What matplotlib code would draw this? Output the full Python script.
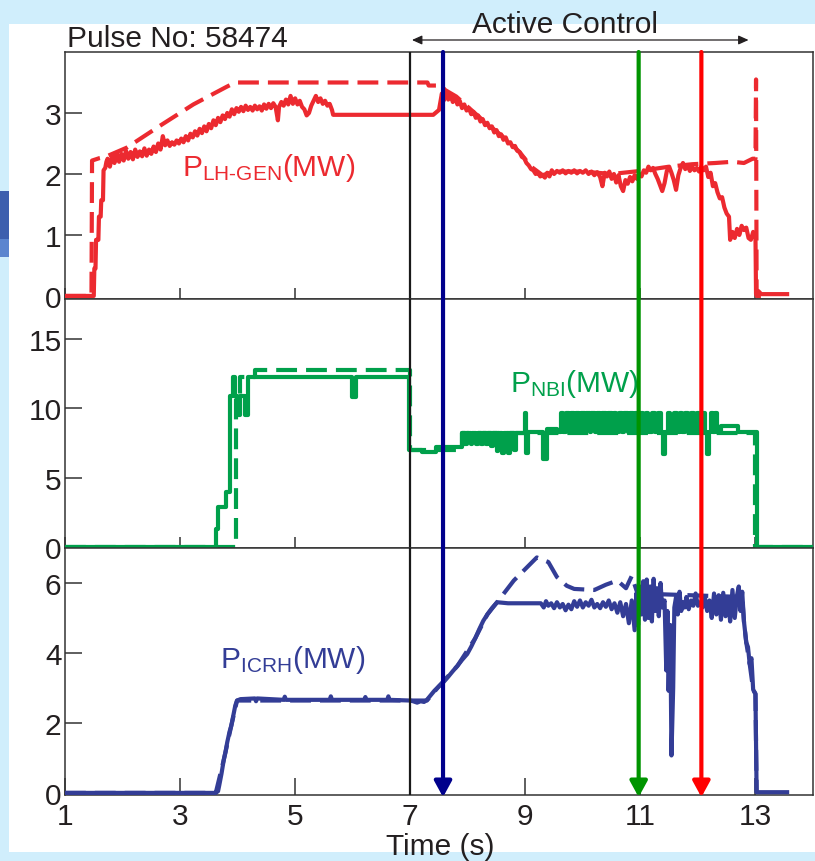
import matplotlib
matplotlib.use("Agg")
import matplotlib.pyplot as plt
from matplotlib.patches import Rectangle, ConnectionPatch
from matplotlib.transforms import blended_transform_factory

plt.rcParams["font.family"] = ["Liberation Sans", "DejaVu Sans"]
plt.rcParams["mathtext.fontset"] = "custom"
plt.rcParams["mathtext.rm"] = "Liberation Sans"
plt.rcParams["mathtext.it"] = "Liberation Sans:italic"
plt.rcParams["mathtext.bf"] = "Liberation Sans:bold"
plt.rcParams["lines.scale_dashes"] = False

# ---------------------------------------------------------------- data
pulse_label = "Pulse No: 58474"
time_ticks = [1, 3, 5, 7, 9, 11, 13]
lh_ticks = [0, 1, 2, 3]
nbi_ticks = [0, 5, 10, 15]
icrh_ticks = [0, 2, 4, 6]

control_start = 7.0
control_span = (7.03, 12.88)
marker_times = [7.57, 10.97, 12.06]
marker_colors = ["#00008c", "#009400", "#ff0000"]

# LH generator power (MW): measured (solid) and requested (dashed)
lh_solid = [
    (1.00, 0.00), (1.50, 0.00), (1.51, 0.45), (1.53, 0.45), (1.54, 0.92), (1.58, 0.92),
    (1.59, 1.30), (1.62, 1.30), (1.63, 1.57), (1.66, 1.57), (1.67, 2.06), (1.70, 2.10),
    (1.72, 2.20), (1.74, 2.25), (1.78, 2.12), (1.82, 2.30), (1.86, 2.18), (1.90, 2.35),
    (1.94, 2.20), (1.98, 2.33), (2.02, 2.22), (2.06, 2.38), (2.10, 2.25), (2.14, 2.36),
    (2.18, 2.24), (2.22, 2.40), (2.26, 2.28), (2.30, 2.37), (2.34, 2.29), (2.38, 2.42),
    (2.42, 2.30), (2.46, 2.40), (2.50, 2.33), (2.54, 2.45), (2.58, 2.36), (2.62, 2.50),
    (2.66, 2.40), (2.70, 2.62), (2.74, 2.47), (2.78, 2.55), (2.82, 2.46), (2.86, 2.52),
    (2.90, 2.48), (2.94, 2.55), (2.98, 2.50), (3.02, 2.58), (3.06, 2.52), (3.10, 2.62),
    (3.14, 2.55), (3.18, 2.66), (3.22, 2.60), (3.26, 2.70), (3.30, 2.63), (3.34, 2.74),
    (3.38, 2.67), (3.42, 2.78), (3.46, 2.70), (3.50, 2.82), (3.54, 2.75), (3.58, 2.88),
    (3.62, 2.80), (3.66, 2.92), (3.70, 2.85), (3.74, 2.96), (3.78, 2.90), (3.82, 3.00),
    (3.86, 2.94), (3.90, 3.06), (3.94, 2.98), (3.98, 3.08), (4.02, 3.02), (4.06, 3.10),
    (4.10, 3.03), (4.14, 3.12), (4.18, 3.05), (4.22, 3.10), (4.26, 3.04), (4.30, 3.12),
    (4.34, 3.06), (4.38, 3.11), (4.42, 3.04), (4.46, 3.14), (4.50, 3.07), (4.54, 3.15),
    (4.58, 3.08), (4.62, 3.16), (4.66, 3.10), (4.70, 2.88), (4.72, 3.10), (4.76, 3.18),
    (4.80, 3.12), (4.84, 3.22), (4.88, 3.14), (4.92, 3.28), (4.96, 3.15), (5.00, 3.24),
    (5.04, 3.14), (5.08, 3.20), (5.12, 3.10), (5.16, 3.06), (5.20, 2.96), (5.24, 3.00),
    (5.28, 3.12), (5.32, 3.20), (5.36, 3.28), (5.40, 3.18), (5.44, 3.24), (5.48, 3.15),
    (5.52, 3.20), (5.56, 3.12), (5.60, 3.15), (5.64, 3.05), (5.66, 2.97), (7.40, 2.97),
    (7.50, 3.05), (7.55, 3.32), (7.58, 3.20), (7.62, 3.35), (7.66, 3.22), (7.70, 3.30),
    (7.74, 3.18), (7.78, 3.25), (7.82, 3.14), (7.86, 3.20), (7.90, 3.08), (7.94, 3.14),
    (7.98, 3.04), (8.02, 3.08), (8.06, 2.98), (8.10, 3.02), (8.14, 2.92), (8.18, 2.96),
    (8.22, 2.86), (8.26, 2.90), (8.30, 2.80), (8.34, 2.84), (8.38, 2.75), (8.42, 2.78),
    (8.46, 2.68), (8.50, 2.72), (8.54, 2.62), (8.58, 2.65), (8.62, 2.56), (8.66, 2.60),
    (8.70, 2.50), (8.74, 2.52), (8.78, 2.44), (8.82, 2.46), (8.86, 2.38), (8.90, 2.36),
    (8.94, 2.28), (8.98, 2.26), (9.02, 2.18), (9.06, 2.14), (9.10, 2.08), (9.14, 2.06),
    (9.18, 2.00), (9.22, 2.02), (9.26, 1.96), (9.30, 1.98), (9.34, 1.94), (9.38, 2.02),
    (9.42, 1.96), (9.46, 2.06), (9.50, 2.00), (9.55, 2.05), (9.60, 2.02), (9.65, 2.06),
    (9.70, 2.01), (9.75, 2.05), (9.80, 2.02), (9.85, 2.06), (9.90, 2.01), (9.95, 2.05),
    (10.00, 2.02), (10.05, 2.06), (10.10, 2.00), (10.15, 2.04), (10.20, 1.98), (10.25, 2.03),
    (10.30, 1.95), (10.34, 1.80), (10.38, 2.02), (10.42, 1.96), (10.46, 2.04), (10.50, 1.92),
    (10.54, 2.00), (10.58, 1.86), (10.62, 1.98), (10.66, 1.80), (10.70, 1.72), (10.74, 1.90),
    (10.78, 1.84), (10.82, 1.95), (10.86, 1.88), (10.90, 1.98), (10.94, 1.92), (10.98, 2.00),
    (11.02, 1.96), (11.06, 2.06), (11.10, 2.02), (11.14, 2.12), (11.18, 2.06), (11.22, 2.10),
    (11.26, 2.00), (11.30, 1.92), (11.34, 1.82), (11.38, 1.72), (11.42, 1.85), (11.46, 2.05),
    (11.50, 2.12), (11.54, 2.02), (11.58, 1.90), (11.62, 1.74), (11.66, 1.98), (11.70, 2.10),
    (11.74, 2.18), (11.78, 2.08), (11.82, 2.14), (11.86, 2.05), (11.90, 2.12), (11.94, 2.06),
    (11.98, 2.10), (12.02, 2.04), (12.06, 2.12), (12.10, 2.06), (12.14, 2.12), (12.18, 1.95),
    (12.22, 2.02), (12.26, 1.80), (12.30, 1.85), (12.34, 1.70), (12.38, 1.60), (12.42, 1.62),
    (12.46, 1.45), (12.50, 1.35), (12.54, 1.30), (12.56, 0.92), (12.60, 1.05), (12.64, 0.95),
    (12.68, 1.10), (12.72, 1.00), (12.76, 1.15), (12.80, 1.08), (12.84, 1.12), (12.88, 0.95),
    (12.92, 0.92), (12.96, 1.05), (13.00, 1.00), (13.01, 0.03), (13.05, 0.08), (13.10, 0.03),
    (13.55, 0.03),
]
lh_request = [
    (1.00, 0.00), (1.46, 0.00), (1.47, 2.22), (1.60, 2.26), (1.70, 2.28), (2.07, 2.43),
    (2.65, 2.79), (3.23, 3.14), (3.81, 3.43), (3.96, 3.50), (7.30, 3.50), (7.32, 3.45),
    (7.55, 3.45), (7.60, 3.38), (7.80, 3.27), (8.00, 3.10), (8.30, 2.85), (8.60, 2.62),
    (8.90, 2.36), (9.10, 2.12), (9.30, 1.98), (9.50, 2.04), (10.00, 2.04), (10.50, 2.00),
    (11.00, 2.05), (11.50, 2.12), (11.90, 2.16), (12.30, 2.18), (12.60, 2.20), (12.80, 2.18),
    (12.95, 2.25), (13.00, 2.25), (13.01, 3.55), (13.02, 0.00), (13.10, 0.00),
]

# NBI power (MW), stepped
nbi_solid = [
    (1.00, 0.00), (3.63, 1.30), (3.66, 2.90), (3.80, 4.00), (3.86, 10.90), (3.92, 12.30),
    (3.95, 10.90), (3.99, 9.50), (4.04, 10.90), (4.12, 9.50), (4.18, 12.30), (5.98, 10.80),
    (6.06, 12.30), (6.98, 7.00), (7.20, 6.85), (7.45, 7.25), (7.90, 8.25), (7.95, 7.40),
    (7.98, 8.25), (8.05, 7.40), (8.08, 8.25), (8.14, 7.40), (8.17, 8.25), (8.23, 7.40),
    (8.26, 8.25), (8.32, 7.40), (8.35, 8.25), (8.41, 7.30), (8.44, 8.25), (8.50, 6.90),
    (8.53, 8.25), (8.60, 6.80), (8.63, 8.25), (8.70, 6.80), (8.73, 8.25), (8.80, 7.00),
    (8.83, 8.25), (8.99, 9.70), (9.02, 6.80), (9.05, 8.30), (9.30, 6.35), (9.37, 8.50),
    (9.55, 8.30), (9.62, 9.70), (9.66, 8.30), (9.70, 9.70), (9.76, 8.30), (9.79, 9.70),
    (9.85, 8.30), (9.88, 9.70), (9.94, 8.30), (9.97, 9.70), (10.03, 8.30), (10.06, 9.70),
    (10.12, 8.30), (10.15, 9.70), (10.21, 8.30), (10.25, 9.70), (10.30, 8.30), (10.34, 9.70),
    (10.40, 8.30), (10.44, 9.70), (10.50, 8.30), (10.54, 9.70), (10.58, 8.30), (10.63, 9.70),
    (10.68, 8.30), (10.72, 9.70), (10.78, 8.30), (10.82, 9.70), (10.87, 8.30), (10.91, 9.70),
    (10.96, 8.30), (11.00, 9.70), (11.05, 8.30), (11.10, 9.70), (11.14, 8.30), (11.20, 9.70),
    (11.25, 8.30), (11.30, 9.70), (11.36, 8.30), (11.40, 6.70), (11.43, 8.30), (11.48, 9.70),
    (11.52, 8.30), (11.58, 9.70), (11.63, 8.30), (11.68, 9.70), (11.72, 8.30), (11.78, 9.70),
    (11.82, 8.30), (11.88, 9.70), (11.93, 8.30), (11.98, 9.70), (12.02, 8.30), (12.08, 9.70),
    (12.12, 8.30), (12.16, 6.70), (12.19, 8.30), (12.22, 9.70), (12.26, 8.30), (12.30, 9.70),
    (12.34, 8.30), (12.40, 8.75), (12.70, 8.30), (13.02, 0.00), (14.00, 0.00),
]
nbi_request = [
    (1.00, 0.00), (3.98, 10.90), (4.05, 12.30), (4.30, 12.80), (6.99, 7.00),
    (7.90, 8.25), (13.00, 0.00), (14.00, 0.00),
]

# ICRH power (MW): measured (solid) and requested (dashed)
icrh_solid = [
    (1.00, 0.00), (3.62, 0.00), (3.66, 0.05), (3.68, 0.21), (3.72, 0.55), (3.76, 0.95),
    (3.79, 1.17), (3.82, 1.45), (3.86, 1.75), (3.89, 1.92), (3.93, 2.25), (3.96, 2.50),
    (3.99, 2.64), (4.05, 2.68), (4.30, 2.70), (4.32, 2.62), (4.34, 2.70), (4.80, 2.66),
    (4.82, 2.75), (4.84, 2.66), (5.60, 2.66), (5.62, 2.76), (5.64, 2.66), (6.20, 2.66),
    (6.22, 2.74), (6.24, 2.66), (6.60, 2.66), (6.62, 2.76), (6.64, 2.66), (7.00, 2.64),
    (7.05, 2.62), (7.12, 2.58), (7.18, 2.62), (7.24, 2.60), (7.29, 2.66), (7.35, 2.78),
    (7.42, 2.92), (7.50, 3.05), (7.58, 3.17), (7.66, 3.32), (7.74, 3.48), (7.82, 3.63),
    (7.90, 3.80), (7.99, 3.97), (8.06, 4.18), (8.13, 4.42), (8.20, 4.68), (8.27, 4.92),
    (8.34, 5.10), (8.42, 5.28), (8.51, 5.45), (8.70, 5.42), (9.00, 5.42), (9.27, 5.42),
    (9.32, 5.30), (9.36, 5.48), (9.40, 5.35), (9.45, 5.42), (9.50, 5.28), (9.55, 5.45),
    (9.60, 5.30), (9.65, 5.40), (9.70, 5.22), (9.75, 5.38), (9.80, 5.25), (9.85, 5.48),
    (9.90, 5.32), (9.95, 5.50), (10.00, 5.30), (10.05, 5.45), (10.10, 5.35), (10.15, 5.52),
    (10.20, 5.30), (10.25, 5.40), (10.30, 5.28), (10.35, 5.45), (10.40, 5.32), (10.45, 5.50),
    (10.50, 5.25), (10.55, 5.42), (10.60, 5.15), (10.65, 5.45), (10.70, 5.05), (10.75, 5.40),
    (10.80, 4.85), (10.85, 5.50), (10.90, 4.65), (10.93, 5.70), (10.96, 4.80), (10.99, 5.90),
    (11.02, 5.10), (11.05, 6.05), (11.08, 4.95), (11.11, 6.10), (11.14, 5.00), (11.17, 5.90),
    (11.20, 4.90), (11.23, 6.12), (11.26, 5.20), (11.29, 5.85), (11.32, 5.05), (11.35, 6.00),
    (11.38, 5.30), (11.42, 5.50), (11.45, 3.50), (11.47, 5.20), (11.49, 2.92), (11.52, 4.80),
    (11.54, 1.07), (11.57, 3.00), (11.59, 5.30), (11.62, 5.60), (11.65, 5.10), (11.68, 5.75),
    (11.71, 5.20), (11.74, 5.45), (11.77, 5.30), (11.80, 5.60), (11.84, 5.25), (11.88, 5.50),
    (11.92, 5.35), (11.96, 5.70), (12.00, 5.35), (12.04, 5.45), (12.08, 5.30), (12.12, 5.60),
    (12.16, 5.20), (12.20, 5.50), (12.24, 5.00), (12.28, 5.70), (12.32, 5.10), (12.36, 5.65),
    (12.40, 4.95), (12.44, 5.72), (12.48, 5.05), (12.52, 5.60), (12.56, 4.90), (12.60, 5.80),
    (12.64, 5.00), (12.68, 5.65), (12.71, 5.90), (12.74, 5.20), (12.77, 5.75), (12.80, 4.90),
    (12.84, 4.30), (12.87, 4.17), (12.90, 3.68), (12.93, 3.85), (12.96, 2.95), (13.00, 2.83),
    (13.02, 0.02), (13.55, 0.02),
]
icrh_request = [
    (1.00, 0.00), (3.62, 0.00), (3.76, 0.95), (3.89, 1.92), (3.99, 2.64), (7.29, 2.64),
    (7.50, 3.05), (7.82, 3.63), (8.13, 4.42), (8.34, 5.10), (8.51, 5.45), (8.80, 6.07),
    (9.20, 6.73), (9.40, 6.60), (9.55, 6.17), (9.72, 5.92), (9.85, 5.83), (10.20, 5.80),
    (10.40, 5.95), (10.60, 6.07), (10.75, 5.85), (10.85, 6.20), (10.95, 5.70), (12.77, 5.60),
    (12.80, 4.90), (12.84, 4.30), (12.90, 3.68), (12.96, 2.95), (13.00, 2.83), (13.02, 0.00),
]

# ---------------------------------------------------------------- style
W, H, DPI = 815, 862, 100
bg_blue = "#d0eefc"
ink = "#231f20"
c_lh = "#ec2a30"
c_nbi = "#00a04b"
c_icrh = "#333d96"
fs = 21.5
sig_lw = 3.0
dash = (0, (15, 6.5))

fig = plt.figure(figsize=(W / DPI, H / DPI), dpi=DPI)
fig.patch.set_facecolor(bg_blue)


def fpx(x0, y0, x1, y1):
    """Rectangle given in pixel corners (top-left origin) -> figure fraction."""
    return [x0 / W, 1 - y1 / H, (x1 - x0) / W, (y1 - y0) / H]


# white slide panel and a sliver of the slide decoration on the left
fig.add_artist(Rectangle(fpx(9, 25, 815, 853)[:2], *fpx(9, 25, 815, 853)[2:],
                         transform=fig.transFigure, facecolor="white",
                         edgecolor="none", zorder=-5))
fig.add_artist(Rectangle(fpx(0, 192, 9, 240)[:2], *fpx(0, 192, 9, 240)[2:],
                         transform=fig.transFigure, facecolor="#3d5fae",
                         edgecolor="none", zorder=-4))
fig.add_artist(Rectangle(fpx(0, 240, 9, 258)[:2], *fpx(0, 240, 9, 258)[2:],
                         transform=fig.transFigure, facecolor="#5b85cf",
                         edgecolor="none", zorder=-4))

ax_lh = fig.add_axes(fpx(65, 53, 813, 300))
ax_nbi = fig.add_axes(fpx(65, 300, 813, 549))
ax_ic = fig.add_axes(fpx(65, 549, 813, 796))
axes = [ax_lh, ax_nbi, ax_ic]

ax_lh.set_ylim(-0.05, 4.0)
ax_nbi.set_ylim(-0.07, 17.9)
ax_ic.set_ylim(-0.06, 7.0)
ax_lh.set_yticks(lh_ticks)
ax_nbi.set_yticks(nbi_ticks)
ax_ic.set_yticks(icrh_ticks)

for ax in axes:
    ax.set_facecolor("white")
    ax.set_xlim(1, 14)
    ax.set_xticks(time_ticks)
    for sp in ax.spines.values():
        sp.set_color("#333333")
        sp.set_linewidth(1.1)
    ax.tick_params(axis="y", direction="in", length=12.5, width=1.1, color="#333333",
                   labelsize=fs, labelcolor=ink, pad=2.5)
    ax.tick_params(axis="x", direction="in", length=8, width=1.1, color="#333333",
                   labelsize=fs, labelcolor=ink, pad=5)
    ax.axvline(control_start, color="#1a1a1a", lw=1.6, zorder=4)

ax_lh.tick_params(axis="x", labelbottom=False)
ax_nbi.tick_params(axis="x", labelbottom=False)
ax_ic.tick_params(axis="x", length=12.5)


def unzip(pairs):
    return [p[0] for p in pairs], [p[1] for p in pairs]


t, v = unzip(lh_request)
ax_lh.plot(t, v, color=c_lh, lw=sig_lw, linestyle=dash, zorder=2)
t, v = unzip(lh_solid)
ax_lh.plot(t, v, color=c_lh, lw=sig_lw, zorder=3)

t, v = unzip(nbi_request)
ax_nbi.plot(t, v, color=c_nbi, lw=sig_lw, linestyle=dash, drawstyle="steps-post", zorder=2)
t, v = unzip(nbi_solid)
ax_nbi.plot(t, v, color=c_nbi, lw=sig_lw, drawstyle="steps-post", zorder=3)

t, v = unzip(icrh_request)
ax_ic.plot(t, v, color=c_icrh, lw=sig_lw, linestyle=dash, zorder=2)
t, v = unzip(icrh_solid)
ax_ic.plot(t, v, color=c_icrh, lw=sig_lw, zorder=3)

ax_lh.text(3.03, 1.98, r"P$_{\mathrm{LH\text{-}GEN}}$(MW)", color=c_lh, fontsize=fs,
           ha="left", va="baseline")
ax_nbi.text(8.74, 11.27, r"P$_{\mathrm{NBI}}$(MW)", color=c_nbi, fontsize=fs,
            ha="left", va="baseline")
ax_ic.text(3.70, 3.60, r"P$_{\mathrm{ICRH}}$(MW)", color=c_icrh, fontsize=fs,
           ha="left", va="baseline")

# vertical time markers running through all three panels
for tm, col in zip(marker_times, marker_colors):
    con = ConnectionPatch(xyA=(tm, ax_lh.get_ylim()[1]), coordsA=ax_lh.transData,
                          xyB=(tm, -0.12), coordsB=ax_ic.transData,
                          arrowstyle="-|>,head_length=0.95,head_width=0.52",
                          mutation_scale=10, lw=3.0, color=col,
                          shrinkA=0, shrinkB=0, zorder=6)
    fig.add_artist(con)

# active-control span above the panels
span_tr = blended_transform_factory(ax_lh.transData, fig.transFigure)
y_span = 1 - 41 / H
fig.add_artist(ConnectionPatch(xyA=(control_span[0], y_span), coordsA=span_tr,
                               xyB=(control_span[1], y_span), coordsB=span_tr,
                               arrowstyle="<|-|>,head_length=1.0,head_width=0.45",
                               mutation_scale=6, lw=0.9, color=ink,
                               shrinkA=0, shrinkB=0, zorder=6))
fig.text(565.5 / W, 1 - 33 / H, "Active Control", fontsize=fs, color=ink,
         ha="center", va="baseline")
fig.text(67 / W, 1 - 47 / H, pulse_label, fontsize=fs, color=ink,
         ha="left", va="baseline")
fig.text(440 / W, 1 - 847 / H, "Time (s)", fontsize=fs, color=ink,
         ha="center", va="center")

fig.savefig("out.png", dpi=DPI, facecolor=fig.get_facecolor())
